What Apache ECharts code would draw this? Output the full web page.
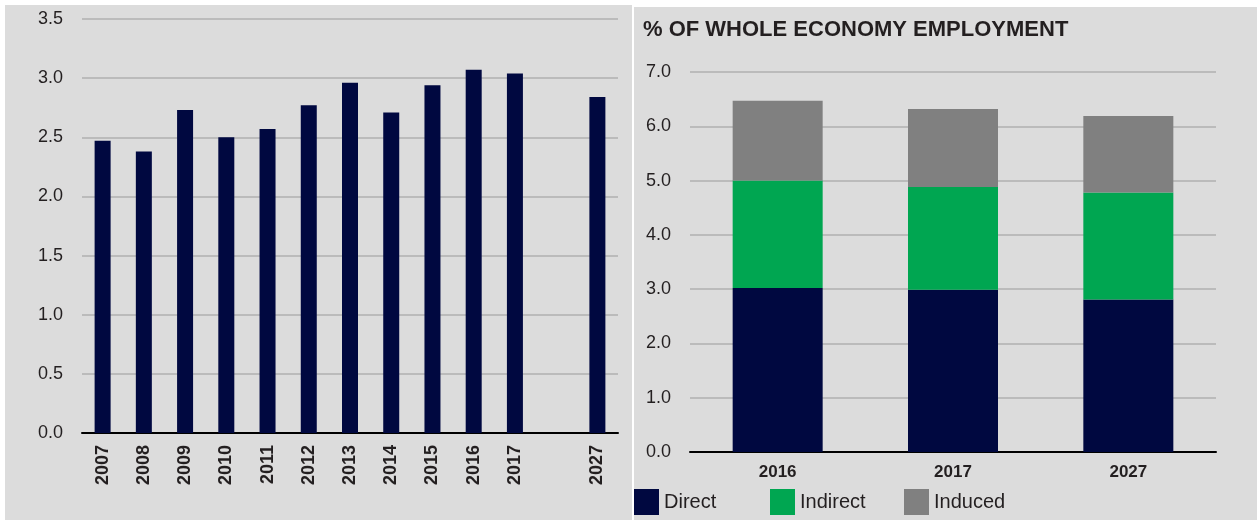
<!DOCTYPE html>
<html lang="en">
<head>
<meta charset="UTF-8">
<title>Employment share</title>
<script src="https://cdn.jsdelivr.net/npm/echarts@6/dist/echarts.min.js"></script>
<style>
    html, body { margin: 0; padding: 0; background: #fff; }
    body { width: 1257px; height: 520px; position: relative; overflow: hidden; }
    #left { position: absolute; left: 5px; top: 5px; width: 627px; height: 515px; background: #dcdcdc; }
    #right { position: absolute; left: 634px; top: 7px; width: 623px; height: 513px; background: #dcdcdc; }
</style>
</head>
<body>
<div id="left"></div>
<div id="right"></div>
<script>
    // left chart: yearly values (blank slot between 2017 and 2027)
    var leftYears = ['2007','2008','2009','2010','2011','2012','2013','2014','2015','2016','2017','','2027'];
    var leftValues = [2.47, 2.38, 2.73, 2.50, 2.57, 2.77, 2.96, 2.71, 2.94, 3.07, 3.04, null, 2.84];

    // right chart: % of whole economy employment
    var rightYears = ['2016', '2017', '2027'];
    var direct = [3.02, 2.99, 2.81];
    var indirect = [1.98, 1.89, 1.97];
    var induced = [1.47, 1.44, 1.41];

    var navy = '#000840';
    var green = '#00a651';
    var grey = '#808080';
    var textCol = '#231f20';
    var font = 'Liberation Sans';

    var leftChart = echarts.init(document.getElementById('left'));
    leftChart.setOption({
        animation: false,
        grid: { left: 77, top: 14, width: 536, height: 414 },
        xAxis: {
            type: 'category',
            data: leftYears,
            axisTick: { show: false },
            axisLine: { lineStyle: { color: '#000', width: 2 } },
            axisLabel: { rotate: 90, margin: 12, fontSize: 18, fontWeight: 'bold', color: textCol, fontFamily: font }
        },
        yAxis: {
            type: 'value',
            min: 0, max: 3.5, interval: 0.5,
            axisLine: { show: false },
            axisTick: { show: false },
            axisLabel: {
                margin: 19, fontSize: 18, color: textCol, fontFamily: font,
                formatter: function (v) { return v.toFixed(1); }
            },
            splitLine: { lineStyle: { color: '#b0b0b0', width: 1.5 } }
        },
        series: [{
            type: 'bar',
            data: leftValues,
            barWidth: 16,
            itemStyle: { color: navy }
        }]
    });

    // one legend per item so each can sit where the original puts it
    var legendText = { fontSize: 20, color: textCol, fontFamily: font };
    function oneLegend(name, left) {
        return {
            data: [name], left: left, top: 482, padding: 0,
            icon: 'rect', itemWidth: 25, itemHeight: 26,
            textStyle: legendText
        };
    }

    var rightChart = echarts.init(document.getElementById('right'));
    rightChart.setOption({
        animation: false,
        title: {
            text: '% OF WHOLE ECONOMY EMPLOYMENT',
            left: 9, top: 12, padding: 0,
            textStyle: { fontSize: 22, fontWeight: 'bold', color: textCol, fontFamily: font }
        },
        legend: [oneLegend('Direct', 0), oneLegend('Indirect', 136), oneLegend('Induced', 270)],
        grid: { left: 56, top: 65, width: 526, height: 380 },
        xAxis: {
            type: 'category',
            data: rightYears,
            axisLine: { lineStyle: { color: '#000', width: 2 } },
            axisTick: { length: 4, lineStyle: { color: '#000', width: 2 } },
            axisLabel: { margin: 12, fontSize: 17, fontWeight: 'bold', color: textCol, fontFamily: font }
        },
        yAxis: {
            type: 'value',
            min: 0, max: 7, interval: 1,
            axisLine: { show: false },
            axisTick: { show: false },
            axisLabel: {
                margin: 19, fontSize: 18, color: textCol, fontFamily: font,
                formatter: function (v) { return v.toFixed(1); }
            },
            splitLine: { lineStyle: { color: '#b0b0b0', width: 1.5 } }
        },
        series: [
            { name: 'Direct', type: 'bar', stack: 'emp', data: direct, barWidth: 90, itemStyle: { color: navy } },
            { name: 'Indirect', type: 'bar', stack: 'emp', data: indirect, barWidth: 90, itemStyle: { color: green } },
            { name: 'Induced', type: 'bar', stack: 'emp', data: induced, barWidth: 90, itemStyle: { color: grey } }
        ]
    });
</script>
</body>
</html>
